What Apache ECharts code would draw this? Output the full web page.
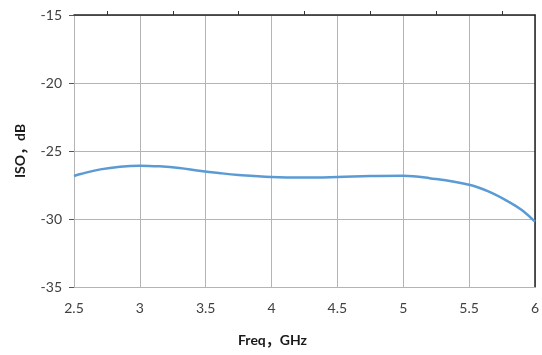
<!DOCTYPE html>
<html>
<head>
<meta charset="utf-8">
<script src="https://cdn.jsdelivr.net/npm/echarts@6/dist/echarts.min.js"></script>
<style>
  html, body { margin: 0; padding: 0; background: #fff; }
  #chart { width: 542px; height: 355px; }
</style>
</head>
<body>
<div id="chart"></div>
<script>
// Isolation versus frequency
const freqGHz = [2.5, 2.55, 2.7, 2.85, 3.0, 3.15, 3.3, 3.45, 3.6, 3.75, 4.0, 4.25, 4.5, 4.75, 5.0, 5.2, 5.5, 5.65, 5.8, 5.9, 6.0];
const isoDb   = [-26.84, -26.69, -26.35, -26.15, -26.08, -26.13, -26.25, -26.45, -26.62, -26.76, -26.91, -26.95, -26.91, -26.84, -26.82, -27.0, -27.48, -27.99, -28.73, -29.34, -30.2];
const xTitle = 'Freq，GHz';
const yTitle = 'ISO，dB';

const labelFont = { fontFamily: 'Lato', fontSize: 14, color: '#404040' };
const titleFont = 'bold 14px Lato, "Noto Sans CJK SC"';
const gridColor = '#b4b4b4';

const chart = echarts.init(document.getElementById('chart'));
chart.setOption({
  animation: false,
  grid: { left: 74, right: 6, top: 15, bottom: 68 },
  xAxis: [
    {
      type: 'value', position: 'bottom', min: 2.5, max: 6, interval: 0.5,
      axisLine: { show: true, lineStyle: { color: gridColor, width: 1 } },
      axisTick: { show: false },
      axisLabel: Object.assign({ margin: 14 }, labelFont),
      splitLine: { show: true, lineStyle: { color: gridColor, width: 1 } }
    },
    {
      type: 'value', position: 'top', min: 2.5, max: 6, interval: 0.5,
      axisLine: { show: true, onZero: false, lineStyle: { color: '#222', width: 1.5 } },
      axisTick: { show: false },
      minorTick: { show: true, splitNumber: 2, length: 4, lineStyle: { color: '#333', width: 1 } },
      axisLabel: { show: false },
      splitLine: { show: false }
    }
  ],
  yAxis: [
    {
      type: 'value', position: 'left', min: -35, max: -15, interval: 5,
      axisLine: { show: true, onZero: false, lineStyle: { color: gridColor, width: 1 } },
      axisTick: { show: true, inside: false, length: 5, lineStyle: { color: '#555' } },
      axisLabel: Object.assign({ margin: 12 }, labelFont),
      splitLine: { show: true, lineStyle: { color: gridColor, width: 1 } }
    },
    {
      type: 'value', position: 'right', min: -35, max: -15, interval: 5,
      axisLine: { show: true, onZero: false, lineStyle: { color: '#222', width: 1.5 } },
      axisTick: { show: false },
      axisLabel: { show: false },
      splitLine: { show: false }
    }
  ],
  series: [{
    type: 'line',
    xAxisIndex: 0, yAxisIndex: 0,
    data: freqGHz.map((f, i) => [f, isoDb[i]]),
    smooth: 0.4,
    showSymbol: false,
    lineStyle: { color: '#5b9bd5', width: 2.5 }
  }],
  graphic: [
    {
      type: 'text', left: 238, top: 333,
      style: { text: xTitle, font: titleFont, fill: '#1a1a1a' }
    },
    {
      type: 'text', x: 20, y: 151, rotation: Math.PI / 2,
      style: { text: yTitle, font: titleFont, fill: '#1a1a1a', align: 'center', verticalAlign: 'middle' }
    }
  ]
});
</script>
</body>
</html>
